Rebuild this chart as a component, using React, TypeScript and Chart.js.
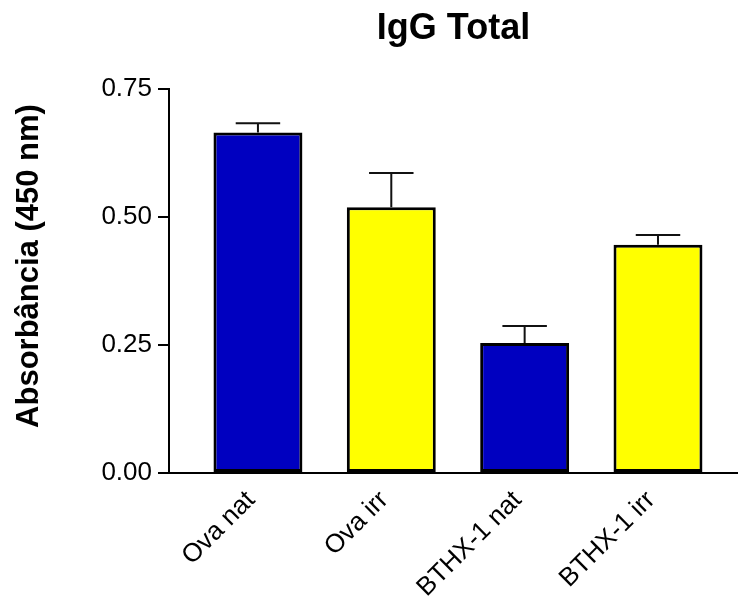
import React, { useEffect, useRef } from 'react';
import { Chart, registerables } from 'chart.js';

Chart.register(...registerables);

const chartTitle = 'IgG Total';
const yAxisTitle = 'Absorbância (450 nm)';
const categories = ['Ova nat', 'Ova irr', 'BTHX-1 nat', 'BTHX-1 irr'];
const means = [0.665, 0.519, 0.254, 0.446];
const sems = [0.018, 0.067, 0.033, 0.019];
const barColors = ['#0000C0', '#FFFF00', '#0000C0', '#FFFF00'];
const yTickValues = [0, 0.25, 0.5, 0.75];

const FONT = "'Liberation Sans', Arial, Helvetica, sans-serif";

export default function App() {
  const canvasRef = useRef<HTMLCanvasElement>(null);

  useEffect(() => {
    if (!canvasRef.current) return;

    const errorBars = {
      id: 'errorBars',
      afterDatasetsDraw(chart: any) {
        const ctx = chart.ctx;
        const meta = chart.getDatasetMeta(0);
        const yScale = chart.scales.y;
        ctx.save();
        ctx.strokeStyle = '#111';
        ctx.lineWidth = 2;
        meta.data.forEach((bar: any, i: number) => {
          const top = yScale.getPixelForValue(means[i]);
          const end = yScale.getPixelForValue(means[i] + sems[i]);
          const half = bar.width / 4;
          ctx.beginPath();
          ctx.moveTo(bar.x, top);
          ctx.lineTo(bar.x, end);
          ctx.moveTo(bar.x - half, end);
          ctx.lineTo(bar.x + half, end);
          ctx.stroke();
        });
        ctx.restore();
      },
    };

    const yTitlePlugin = {
      id: 'yTitlePlugin',
      afterDraw(chart: any) {
        const ctx = chart.ctx;
        const area = chart.chartArea;
        ctx.save();
        ctx.translate(29, (area.top + area.bottom) / 2 - 15);
        ctx.rotate(-Math.PI / 2);
        ctx.font = `bold 31px ${FONT}`;
        ctx.fillStyle = '#000';
        ctx.textAlign = 'center';
        ctx.textBaseline = 'middle';
        ctx.fillText(yAxisTitle, 0, 0);
        ctx.restore();
      },
    };

    const chart = new Chart(canvasRef.current, {
      type: 'bar',
      data: {
        datasets: [
          {
            data: means.map((m, i) => ({ x: i, y: m })),
            backgroundColor: barColors,
            borderColor: '#000',
            borderWidth: 3,
            borderSkipped: false,
            barPercentage: 0.667,
            categoryPercentage: 1,
          },
        ],
      },
      options: {
        animation: false,
        responsive: false,
        maintainAspectRatio: false,
        layout: { padding: 0 },
        plugins: {
          legend: { display: false },
          tooltip: { enabled: false },
          title: {
            display: true,
            text: chartTitle,
            fullSize: false,
            color: '#000',
            font: { family: FONT, size: 36, weight: 'bold' },
            padding: { top: 7, bottom: 38.8 },
          },
        },
        scales: {
          x: {
            type: 'linear',
            min: -0.667,
            max: 3.6,
            offset: false,
            grid: { display: false },
            border: { display: true, color: '#000', width: 2 },
            afterBuildTicks: (scale: any) => {
              scale.ticks = categories.map((_, i) => ({ value: i }));
            },
            afterFit: (scale: any) => {
              scale.height = 128;
            },
            ticks: {
              autoSkip: false,
              maxRotation: 45,
              minRotation: 45,
              padding: 4,
              labelOffset: -7,
              color: '#000',
              font: { family: FONT, size: 26 },
              callback: (v: any) => categories[v] ?? '',
            },
          },
          y: {
            min: 0,
            max: 0.75,
            afterBuildTicks: (scale: any) => {
              scale.ticks = yTickValues.map((v) => ({ value: v }));
            },
            afterFit: (scale: any) => {
              scale.width = 169;
            },
            grid: {
              drawOnChartArea: false,
              drawTicks: true,
              tickLength: 11,
              color: '#000',
              lineWidth: 2,
            },
            border: { color: '#000', width: 2 },
            ticks: {
              padding: 6,
              color: '#000',
              font: { family: FONT, size: 26 },
              callback: (v: any) => Number(v).toFixed(2),
            },
          },
        },
      },
      plugins: [errorBars, yTitlePlugin],
    } as any);

    return () => chart.destroy();
  }, []);

  return (
    <div style={{ position: 'absolute', left: 0, top: 0, width: 738, height: 601, background: '#fff' }}>
      <canvas ref={canvasRef} width={738} height={601} style={{ display: 'block' }} />
    </div>
  );
}
